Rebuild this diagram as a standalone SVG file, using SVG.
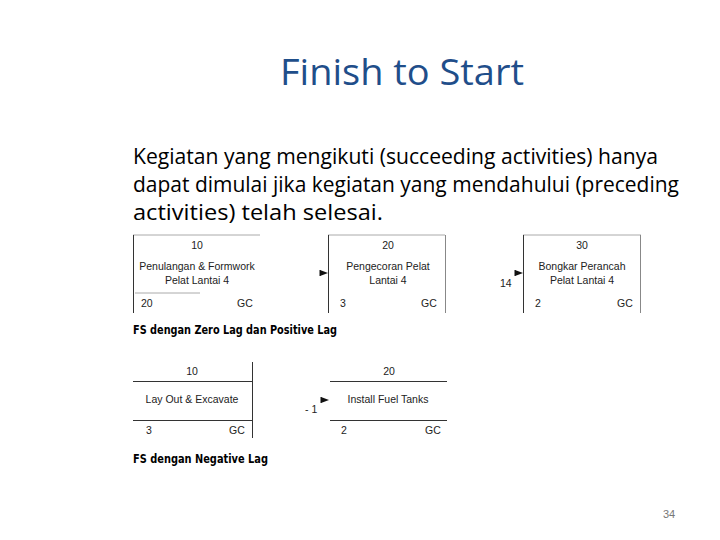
<svg xmlns="http://www.w3.org/2000/svg" width="720" height="540" viewBox="0 0 720 540">
<style>
.title{font-family:"Open Sans","Liberation Sans",sans-serif;font-size:36px;fill:#1F4E8A}
.body{font-family:"Open Sans","Liberation Sans",sans-serif;font-size:22px;fill:#000}
.cap{font-family:"DejaVu Sans","Liberation Sans",sans-serif;font-size:12px;font-weight:bold;fill:#000}
.t{font-family:"Liberation Sans",Arial,sans-serif;font-size:10.5px;fill:#222}
.c{text-anchor:middle}
.hl{stroke:#aaa;stroke-width:1;fill:none}
.vl{stroke:#333;stroke-width:1;fill:none}
.vg{stroke:#888;stroke-width:1;fill:none}
.ah{fill:#111}
.pg{font-family:"Liberation Sans",sans-serif;font-size:11px;fill:#777}
</style>
<rect width="720" height="540" fill="#fff"/>
<text class="title" x="280" y="85" textLength="244" lengthAdjust="spacingAndGlyphs">Finish to Start</text>
<text class="body" x="133" y="164" textLength="525" lengthAdjust="spacingAndGlyphs">Kegiatan yang mengikuti (succeeding activities) hanya</text>
<text class="body" x="133" y="192" textLength="546" lengthAdjust="spacingAndGlyphs">dapat dimulai jika kegiatan yang mendahului (preceding</text>
<text class="body" x="133" y="220" textLength="250" lengthAdjust="spacingAndGlyphs">activities) telah selesai.</text>

<g id="node-10a">
<line class="hl" x1="133" y1="235" x2="260" y2="235"/>
<line class="vl" x1="133.5" y1="235" x2="133.5" y2="313"/>
<line class="hl" x1="135" y1="293" x2="200" y2="293"/>
<text class="t c" x="197" y="249">10</text>
<text class="t c" x="197" y="270">Penulangan &amp; Formwork</text>
<text class="t c" x="197" y="284">Pelat Lantai 4</text>
<text class="t" x="141" y="307">20</text>
<text class="t" x="237" y="307">GC</text>
</g>
<g id="node-20a">
<line class="hl" x1="328" y1="235" x2="445" y2="235"/>
<line class="vl" x1="328.5" y1="235" x2="328.5" y2="313"/>
<line class="vg" x1="445.5" y1="235" x2="445.5" y2="313"/>
<text class="t c" x="388" y="249">20</text>
<text class="t c" x="388" y="270">Pengecoran Pelat</text>
<text class="t c" x="388" y="284">Lantai 4</text>
<text class="t" x="340" y="307">3</text>
<text class="t" x="421" y="307">GC</text>
</g>
<g id="node-30a">
<line class="hl" x1="523" y1="235" x2="641" y2="235"/>
<line class="vl" x1="523.5" y1="235" x2="523.5" y2="313"/>
<line class="vg" x1="640.5" y1="235" x2="640.5" y2="313"/>
<text class="t c" x="582" y="249">30</text>
<text class="t c" x="582" y="270">Bongkar Perancah</text>
<text class="t c" x="582" y="284">Pelat Lantai 4</text>
<text class="t" x="535" y="307">2</text>
<text class="t" x="617" y="307">GC</text>
</g>
<g id="node-10b">
<line class="vl" x1="252.5" y1="362" x2="252.5" y2="438"/>
<line class="vl" x1="133" y1="381.5" x2="252" y2="381.5"/>
<line class="vl" x1="133" y1="420.5" x2="252" y2="420.5"/>
<text class="t c" x="192" y="375">10</text>
<text class="t c" x="192" y="403">Lay Out &amp; Excavate</text>
<text class="t" x="146" y="434">3</text>
<text class="t" x="229" y="434">GC</text>
</g>
<g id="node-20b">
<line class="vl" x1="330" y1="381.5" x2="447" y2="381.5"/>
<line class="vl" x1="330" y1="420.5" x2="447" y2="420.5"/>
<text class="t c" x="389" y="375">20</text>
<text class="t c" x="388" y="403">Install Fuel Tanks</text>
<text class="t" x="341" y="434">2</text>
<text class="t" x="425" y="434">GC</text>
</g>
<g id="connectors">
<polygon class="ah" points="320,270 328,273 320,276"/>
<line x1="320" y1="270" x2="320" y2="276" stroke="#111"/>
<polygon class="ah" points="515,270 523,273 515,276"/>
<line x1="515" y1="270" x2="515" y2="276" stroke="#111"/>
<text class="t" x="500" y="287">14</text>
<polygon class="ah" points="321,397 329,400 321,403"/>
<line x1="321" y1="397" x2="321" y2="403" stroke="#111"/>
<text class="t" x="305" y="413" fill="#555">- 1</text>
</g>
<text class="cap" x="133" y="334" textLength="204" lengthAdjust="spacingAndGlyphs">FS dengan Zero Lag dan Positive Lag</text>
<text class="cap" x="133" y="463" textLength="135" lengthAdjust="spacingAndGlyphs">FS dengan Negative Lag</text>
<text class="pg" x="663" y="518">34</text>
</svg>
